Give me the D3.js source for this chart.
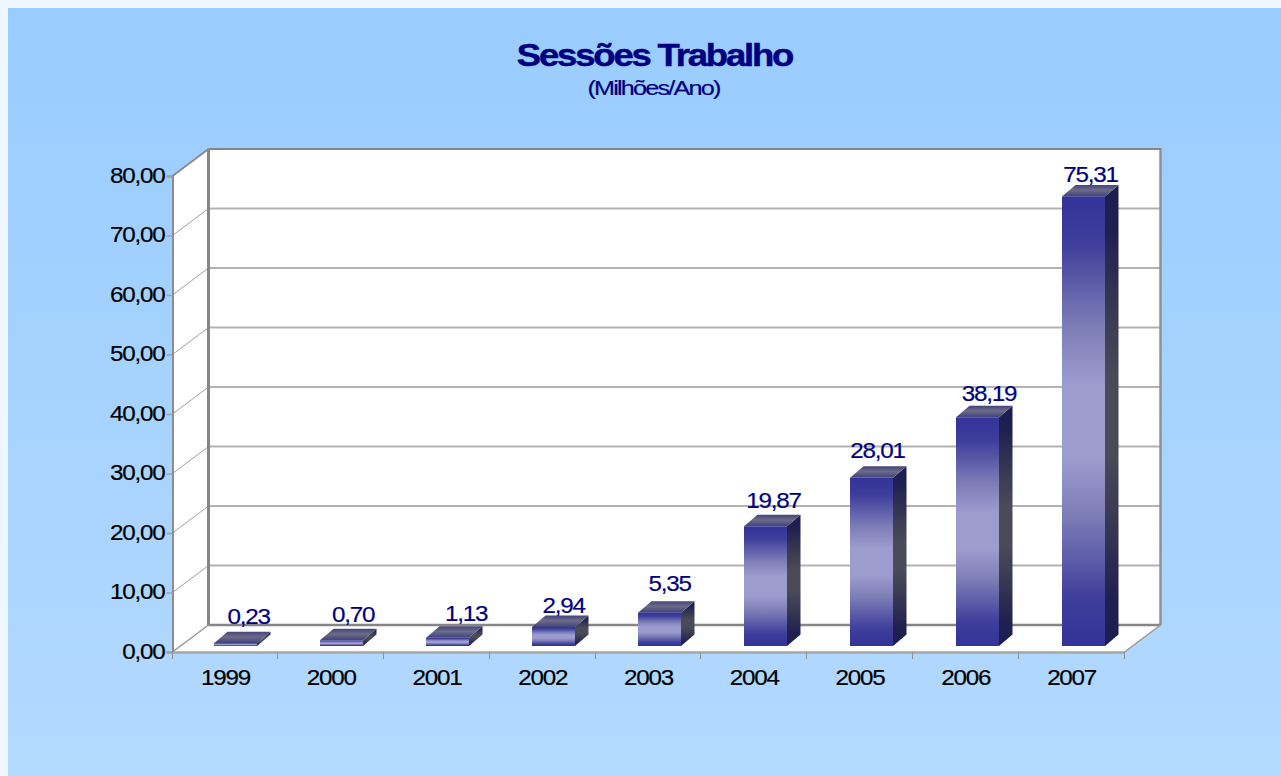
<!DOCTYPE html>
<html><head><meta charset="utf-8">
<script src="https://cdn.jsdelivr.net/npm/d3@7"></script>
<style>html,body{margin:0;padding:0;background:#eef7ff;overflow:hidden}svg{display:block}text{font-family:"Liberation Sans",Arial,sans-serif}</style>
</head><body><svg id="c" width="1281" height="776"></svg>
<script>
const categories=["1999","2000","2001","2002","2003","2004","2005","2006","2007"];
const values=[0.23,0.70,1.13,2.94,5.35,19.87,28.01,38.19,75.31];
const yTicks=[0,10,20,30,40,50,60,70,80];
const titleText="Sessões Trabalho";
const subtitleText="(Milhões/Ano)";

const W=1281,H=776;
const svg=d3.select("#c");
const defs=svg.append("defs");
function grad(id,stops,vert=true){
  const g=defs.append("linearGradient").attr("id",id).attr("x1",0).attr("y1",0).attr("x2",vert?0:1).attr("y2",vert?1:0);
  stops.forEach(([o,c])=>g.append("stop").attr("offset",o).attr("stop-color",c));
}
grad("bg",[[0,"#99ccff"],[1,"#b3d9ff"]]);
grad("front",[[0,"#333399"],[0.1,"#3d3d9b"],[0.3,"#8080b8"],[0.42,"#9c9ccf"],[0.58,"#9c9ccf"],[0.7,"#8080b8"],[0.9,"#3d3d9b"],[1,"#333399"]]);
grad("side",[[0,"#1c1c50"],[0.1,"#202050"],[0.3,"#3c3c54"],[0.42,"#4a4a58"],[0.58,"#4a4a58"],[0.7,"#3c3c54"],[0.9,"#202050"],[1,"#1c1c50"]]);
grad("topf",[[0,"#44447c"],[0.45,"#6c6c88"],[1,"#40407c"]]);
svg.append("rect").attr("x",8).attr("y",8).attr("width",W-8).attr("height",H-8).attr("fill","url(#bg)");

const x=d3.scaleBand().domain(categories).range([172.5,1124.5]);
const barX=d3.scalePoint().domain(categories).range([214,1062]);
const y=d3.scaleLinear().domain([0,80]).range([652,176]);
const depth={dx:36,dy:-27};
const barDepth={dx:13.5,dy:-11.5};
const barW=43, barOffY=-6, barCap=1.5;
const [x0,x1]=x.range();
const fmt=d3.formatLocale({decimal:",",thousands:".",grouping:[3],currency:["",""]}).format(".2f");
const pts=a=>a.map(p=>p.join(",")).join(" ");

// walls
svg.append("polygon").attr("fill","#fff").attr("points",pts([[x0,y(0)],[x0,y(80)],[x0+depth.dx,y(80)+depth.dy],[x1+depth.dx,y(80)+depth.dy],[x1+depth.dx,y(0)+depth.dy],[x1,y(0)]]));
// grid lines
yTicks.slice(1,-1).forEach(t=>{
  svg.append("line").attr("x1",x0+depth.dx).attr("x2",x1+depth.dx).attr("y1",y(t)+depth.dy).attr("y2",y(t)+depth.dy).attr("stroke","#b2b2b2").attr("stroke-width",2);
  svg.append("line").attr("x1",x0).attr("x2",x0+depth.dx).attr("y1",y(t)).attr("y2",y(t)+depth.dy).attr("stroke","#a0a0a0").attr("stroke-width",1);
});
const frame=(a,b,c,d,w,col="#858585")=>svg.append("line").attr("x1",a).attr("y1",b).attr("x2",c).attr("y2",d).attr("stroke",col).attr("stroke-width",w);
frame(x0+depth.dx,y(80)+depth.dy,x1+depth.dx+1,y(80)+depth.dy,2);
frame(x0+depth.dx,y(80)+depth.dy,x0+depth.dx,y(0)+depth.dy,3);
frame(x1+depth.dx,y(80)+depth.dy,x1+depth.dx,y(0)+depth.dy,2.5,"#909090");
frame(x0+depth.dx,y(0)+depth.dy,x1+depth.dx,y(0)+depth.dy,2.5);
frame(x0,y(80),x0+depth.dx,y(80)+depth.dy,2,"#8a8a8a");
frame(x0,y(0),x0+depth.dx,y(0)+depth.dy,1.5,"#999");
frame(x1,y(0),x1+depth.dx,y(0)+depth.dy,1.5,"#999");

// axes
const gy=svg.append("g").attr("transform",`translate(${x0},0)`).call(d3.axisLeft(y).tickValues(yTicks).tickFormat(fmt).tickSize(6).tickPadding(7));
const gx=svg.append("g").attr("transform",`translate(0,${y(0)})`).call(d3.axisBottom(x).tickSize(0).tickPadding(24));
gx.selectAll(".tick line").remove();
gy.select(".domain").attr("stroke","#8c8c8c").attr("stroke-width",2);
gx.select(".domain").attr("stroke","#a6a6a6").attr("stroke-width",2.5);
gy.selectAll(".tick line").attr("stroke","#a0a0a0").attr("stroke-width",1.5);
categories.concat([null]).forEach((c,i)=>{
  const tx=Math.round(x0+i*x.step())-.5;
  svg.append("line").attr("x1",tx).attr("x2",tx).attr("y1",y(0)).attr("y2",y(0)+7).attr("stroke","#909090").attr("stroke-width",1);
});
const SX=1.1, LS=-1.1, FS=22;
function squeeze(sel,fs,sx,ls,anchor,sw=0.2){
  sel.each(function(){
    const t=d3.select(this);
    const px=+t.attr("x")||0, py=+t.attr("y")||0;
    t.attr("x",0).attr("y",0).attr("dy",null)
     .attr("transform",`translate(${px},${py}) scale(${sx},1)`)
     .attr("stroke",t.attr("fill")).attr("stroke-width",sw)
     .style("font-size",fs+"px").style("letter-spacing",ls+"px").attr("text-anchor",anchor);
  });
}
gy.selectAll(".tick text").attr("y",6).attr("x",-8).attr("fill","#000");
squeeze(gy.selectAll(".tick text"),FS,SX,LS,"end");
gx.selectAll(".tick text").attr("y",33).attr("x",0).attr("fill","#000").attr("dy",null);
squeeze(gx.selectAll(".tick text"),FS,SX,LS,"middle");

// bars
const bars=svg.append("g").selectAll("g").data(values).join("g");
const bx=(d,i)=>barX(categories[i]);
const by=d=>y(d)+barOffY-barCap;
const byb=y(0)+barOffY;
bars.append("polygon").attr("fill","url(#side)").attr("points",(d,i)=>{const a=bx(d,i)+barW;return pts([[a,by(d)],[a+barDepth.dx,by(d)+barDepth.dy],[a+barDepth.dx,byb+barDepth.dy],[a,byb]]);});
bars.append("polygon").attr("fill","url(#topf)").attr("points",(d,i)=>{const a=bx(d,i);return pts([[a,by(d)],[a+barW,by(d)],[a+barW+barDepth.dx,by(d)+barDepth.dy],[a+barDepth.dx,by(d)+barDepth.dy]]);});
bars.append("rect").attr("fill","url(#front)").attr("x",(d,i)=>bx(d,i)).attr("width",barW).attr("y",by).attr("height",d=>byb-by(d));

// data labels; the source chart placed each one slightly off its bar
const labelDX=[13,11.5,18.5,10,10,8,6,11.5,7];
const labelDY=[-19.5,-18.5,-16.5,-14,-21.5,-18.5,-19.5,-16.5,-14.5];
svg.append("g").selectAll("text").data(values).join("text")
  .attr("x",(d,i)=>bx(d,i)+barW/2+labelDX[i])
  .attr("y",(d,i)=>by(d)+labelDY[i])
  .attr("fill","#000080")
  .text(fmt)
  .call(s=>squeeze(s,FS,SX,LS,"middle"));

// titles
const cx=654.5;
svg.append("text").attr("x",cx).attr("y",65.5).attr("fill","#000080").style("font-weight","bold").text(titleText)
  .call(s=>squeeze(s,32,1.14,-1.9,"middle",0.5));
svg.append("text").attr("x",cx-1).attr("y",95).attr("fill","#000080").text(subtitleText)
  .call(s=>squeeze(s,21,1.2,-1.5,"middle"));
</script></body></html>
